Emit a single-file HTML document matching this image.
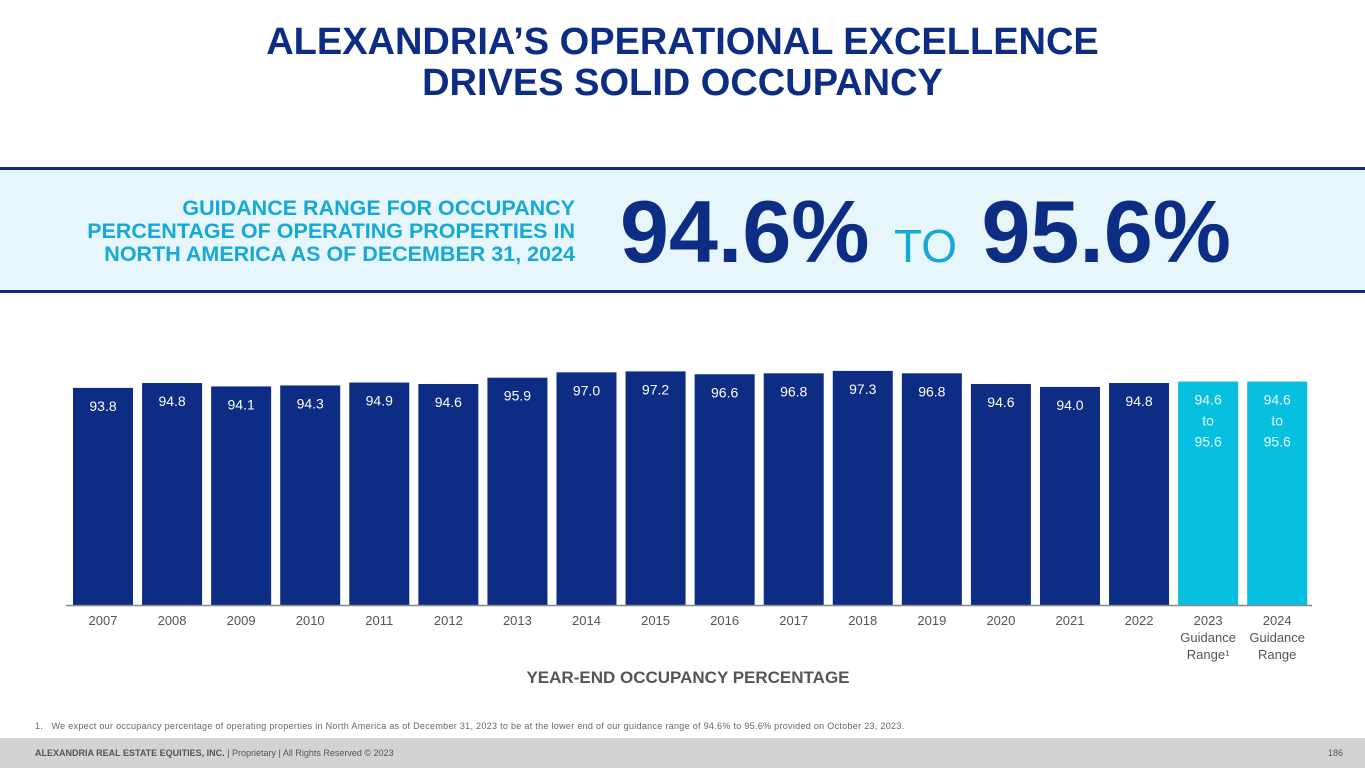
<!DOCTYPE html>
<html><head><meta charset="utf-8"><style>
body{margin:0;width:1365px;height:768px;position:relative;background:#fff;font-family:"Liberation Sans",sans-serif;overflow:hidden}
.t{position:absolute;left:0;width:1365px;text-align:center;top:22px;color:#0c2d83;font-weight:bold;font-size:38px;line-height:41px}
.band{position:absolute;left:0;top:167px;width:1365px;height:120px;background:#e6f6fb;border-top:3px solid #0c2d83;border-bottom:3px solid #0c2d83}
.gl{position:absolute;right:790px;top:27px;text-align:right;color:#17a9d6;font-weight:bold;font-size:21.5px;line-height:23px;white-space:nowrap}
.big{position:absolute;left:620px;top:12px;font-size:88px;font-weight:bold;color:#0c2d83;line-height:100px;white-space:nowrap}
.big span{font-weight:normal;color:#17a9d6;font-size:46px}
.foot{position:absolute;left:0;top:738px;width:1365px;height:30px;background:#d3d3d3;font-size:9px;color:#555}
</style></head><body>
<div class="t">ALEXANDRIA’S OPERATIONAL EXCELLENCE<br>DRIVES SOLID OCCUPANCY</div>
<div class="band">
<div class="gl">GUIDANCE RANGE FOR OCCUPANCY<br>PERCENTAGE OF OPERATING PROPERTIES IN<br>NORTH AMERICA AS OF DECEMBER 31, 2024</div>
<div class="big">94.6%&nbsp;<span>TO</span>&nbsp;95.6%</div>
</div>
<svg id="c" width="1365" height="700" style="position:absolute;left:0;top:0"></svg>
<div style="position:absolute;left:35px;top:721px;font-size:9px;letter-spacing:0.3px;color:#666;white-space:nowrap">1.&nbsp;&nbsp; We expect our occupancy percentage of operating properties in North America as of December 31, 2023 to be at the lower end of our guidance range of 94.6% to 95.6% provided on October 23, 2023.</div>
<div class="foot">
<div style="position:absolute;left:35px;top:10px"><b>ALEXANDRIA REAL ESTATE EQUITIES, INC.</b> | Proprietary | All Rights Reserved © 2023</div>
<div style="position:absolute;right:22px;top:10px">186</div></div>
<script>
const categories=["2007","2008","2009","2010","2011","2012","2013","2014","2015","2016","2017","2018","2019","2020","2021","2022","2023","2024"];
const values=[93.8,94.8,94.1,94.3,94.9,94.6,95.9,97.0,97.2,96.6,96.8,97.3,96.8,94.6,94.0,94.8,95.1,95.1];
const labels=["93.8","94.8","94.1","94.3","94.9","94.6","95.9","97.0","97.2","96.6","96.8","97.3","96.8","94.6","94.0","94.8","94.6|to|95.6","94.6|to|95.6"];
const subLabels=["","","","","","","","","","","","","","","","","Guidance|Range¹","Guidance|Range"];
const NS="http://www.w3.org/2000/svg",svg=document.getElementById('c');
const base=605,vmin=49.1,k=4.857,x0=73,pitch=69.07,bw=60;
const y=v=>base-(v-vmin)*k, x=i=>x0+i*pitch;
function mk(t,a){const e=document.createElementNS(NS,t);for(const n in a)e.setAttribute(n,a[n]);svg.appendChild(e);return e;}
categories.forEach((c,i)=>{
 const g=i>=16;
 const r=mk('rect',{x:x(i),y:y(values[i]),width:bw,height:base-y(values[i]),fill:g?'#07c0df':'#0c2d83'});
 
 
 labels[i].split('|').forEach((s,j)=>{
  const t=mk('text',{x:x(i)+bw/2,y:y(values[i])+23+j*21,'text-anchor':'middle',fill:g?'#e6f8fc':'#fff','font-size':14});
  t.textContent=s;
  
  
 });
 [c].concat(subLabels[i]?subLabels[i].split('|'):[]).forEach((s,j)=>{
  const t=mk('text',{x:x(i)+bw/2,y:625+j*17,'text-anchor':'middle',fill:'#555','font-size':13});
  t.textContent=s;
  
  
 });
});
const ax=mk('line',{x1:66,x2:1312,y1:base+0.5,y2:base+0.5,stroke:'#888','stroke-width':1.5});


const tt=mk('text',{x:688,y:683,'text-anchor':'middle',fill:'#555','font-size':17,'font-weight':'bold'});
tt.textContent='YEAR-END OCCUPANCY PERCENTAGE';


</script>
</body></html>
